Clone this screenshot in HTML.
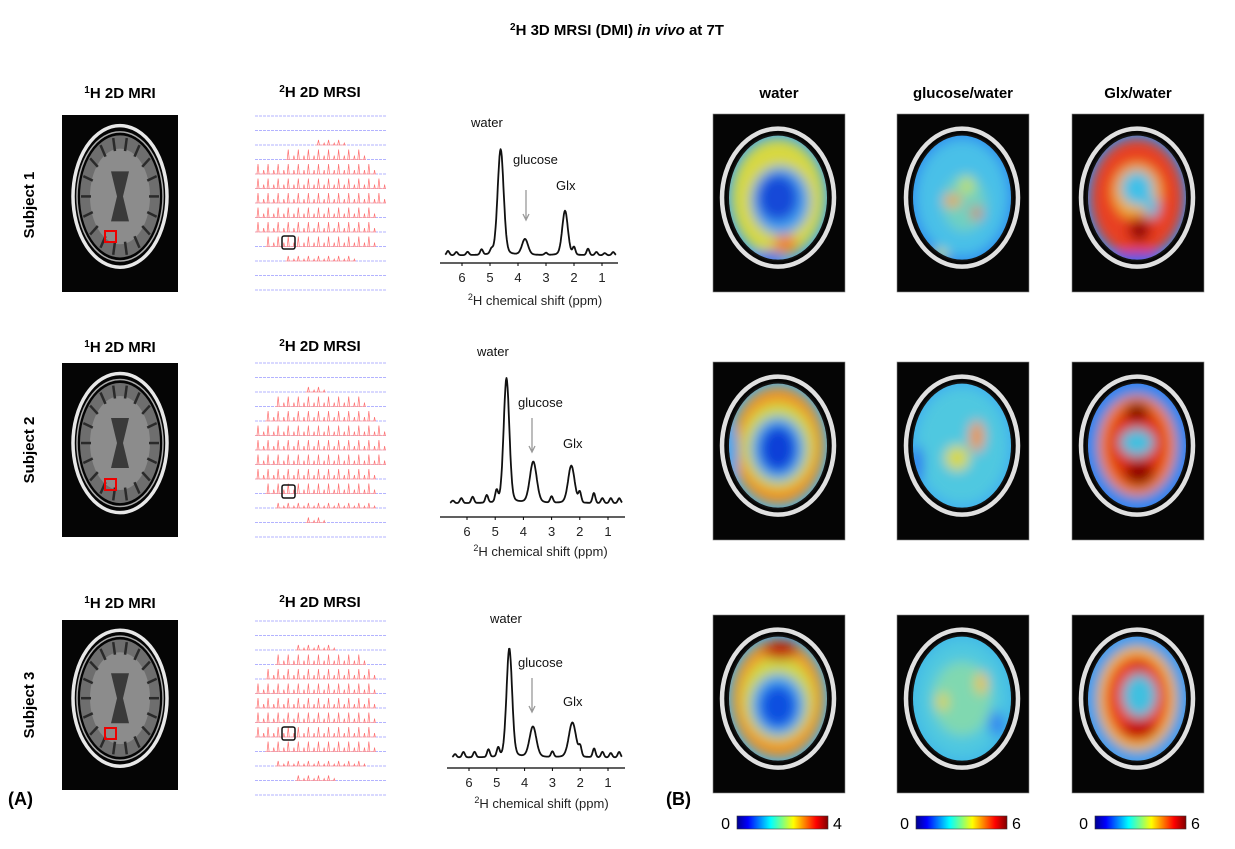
<!DOCTYPE html>
<html><head><meta charset="utf-8"><style>
body{margin:0;background:#fff;width:1235px;height:844px;overflow:hidden;font-family:"Liberation Sans",sans-serif}
svg text{font-family:"Liberation Sans",sans-serif}
</style></head><body>
<svg id="fig" width="1235" height="844" viewBox="0 0 1235 844" xmlns="http://www.w3.org/2000/svg">
<defs>
<linearGradient id="jet" x1="0" x2="1" y1="0" y2="0">
<stop offset="0" stop-color="#00008f"/><stop offset="0.12" stop-color="#0000ff"/><stop offset="0.37" stop-color="#00ffff"/><stop offset="0.5" stop-color="#80ff80"/><stop offset="0.62" stop-color="#ffff00"/><stop offset="0.87" stop-color="#ff0000"/><stop offset="1" stop-color="#800000"/>
</linearGradient>
<filter id="blur" x="-50%" y="-50%" width="200%" height="200%"><feGaussianBlur stdDeviation="6"/></filter>
</defs>
<text x="617" y="35" text-anchor="middle" font-size="15" font-weight="bold"><tspan font-size="10" dy="-5">2</tspan><tspan dy="5">H 3D MRSI (DMI) </tspan><tspan font-style="italic">in vivo</tspan> at 7T</text>
<text x="8" y="805" font-size="18" font-weight="bold">(A)</text>
<text x="666" y="805" font-size="18" font-weight="bold">(B)</text>
<g id="content"></g>
</svg>
<script>
// Spectrum data: peak positions (ppm), heights (relative to water=1), widths (ppm)
const peakNames = ["water","glucose","Glx"];
const peakPpm = [[4.62,3.75,2.32],[4.6,3.65,2.3],[4.55,3.7,2.28]];
const peakHeights = [[1.0,0.15,0.42],[1.0,0.33,0.30],[1.0,0.28,0.32]];
const peakWidths = [[0.15,0.15,0.14],[0.14,0.17,0.16],[0.14,0.17,0.18]];
const noisePpm = [6.5,6.2,5.8,5.3,4.95,3.0,2.0,1.5,1.2,0.9,0.6];
const noiseAmp = [[0.04,0.03,0.03,0.05,0.04,0.02,0.07,0.06,0.03,0.02,0.03],[0.02,0.04,0.05,0.06,0.09,0.05,0.08,0.08,0.04,0.04,0.04],[0.03,0.05,0.05,0.07,0.08,0.05,0.08,0.08,0.05,0.04,0.05]];
const tickLabels = [6,5,4,3,2,1];
// MRSI grid: first/last column with spectra per row (-1 = none)
const mrsiStart = [[-1,-1,6,3,0,0,0,0,0,1,3,-1,-1],[-1,-1,5,2,1,0,0,0,0,1,2,5,-1],[-1,-1,4,2,1,0,0,0,0,1,2,4,-1]];
const mrsiEnd = [[-1,-1,8,10,11,12,12,11,11,11,9,-1,-1],[-1,-1,6,10,11,12,12,12,11,11,11,6,-1],[-1,-1,7,10,11,11,11,11,11,11,10,7,-1]];

const NS="http://www.w3.org/2000/svg";
const root=document.getElementById('content');
function mk(tag,attrs,parent){const e=document.createElementNS(NS,tag);for(const k in attrs)e.setAttribute(k,attrs[k]);(parent||root).appendChild(e);return e;}

const rows=[
 {top:115,bot:292,lab:98, ax:{x0:440,x1:618,y:263,ppm6:462,ppm1:602,base:250,wtop:144}, wl:[471,127], gl:[513,164], ga:[526,190,220], xl:[556,190], xlabel:305, mrsi:[116,290], sq:[110,236], sq2:[289,243], subj:205},
 {top:363,bot:537,lab:352, ax:{x0:440,x1:625,y:517,ppm6:467,ppm1:608,base:497,wtop:372}, wl:[477,356], gl:[518,407], ga:[532,418,452], xl:[563,448], xlabel:556, mrsi:[363,537], sq:[110,484], sq2:[289,492], subj:450},
 {top:620,bot:790,lab:608, ax:{x0:447,x1:625,y:768,ppm6:469,ppm1:608,base:752,wtop:643}, wl:[490,623], gl:[518,667], ga:[532,678,712], xl:[563,706], xlabel:808, mrsi:[621,795], sq:[110,733], sq2:[289,734], subj:705}
];

rows.forEach((r,ri)=>{
 const g=mk('g',{});
 
 
 const st=mk('text',{x:0,y:0,transform:`translate(34,${r.subj}) rotate(-90)`,'text-anchor':'middle','font-size':15,'font-weight':'bold'},g);
 st.textContent='Subject '+(ri+1);
 
 
 const l1=mk('text',{x:120,y:r.lab,'text-anchor':'middle','font-size':15,'font-weight':'bold'},g);
 l1.innerHTML='<tspan font-size="10" dy="-5">1</tspan><tspan dy="5">H 2D MRI</tspan>';
 
 
 const l2=mk('text',{x:320,y:r.lab-1,'text-anchor':'middle','font-size':15,'font-weight':'bold'},g);
 l2.innerHTML='<tspan font-size="10" dy="-5">2</tspan><tspan dy="5">H 2D MRSI</tspan>';
 
 
 const mg=mk('g',{},g);
 
 
 const cx=120, h=r.bot-r.top, cy=r.top+h*0.46;
 mk('rect',{x:62,y:r.top,width:116,height:h,fill:'#050505'},mg);
 mk('ellipse',{cx,cy,rx:47,ry:h*0.4,fill:'none',stroke:'#e8e8e8','stroke-width':3.5},mg);
 mk('ellipse',{cx,cy,rx:43,ry:h*0.365,fill:'none',stroke:'#aaa','stroke-width':1.5},mg);
 mk('ellipse',{cx,cy,rx:40,ry:h*0.345,fill:'#6e6e6e'},mg);
 mk('ellipse',{cx,cy,rx:30,ry:h*0.27,fill:'#8c8c8c'},mg);
 mk('path',{d:`M${cx-9} ${cy-25} L${cx-3} ${cy} L${cx-9} ${cy+25} L${cx+9} ${cy+25} L${cx+3} ${cy} L${cx+9} ${cy-25} Z`,fill:'#3a3a3a'},mg);
 for(let k=0;k<18;k++){const a=k/18*Math.PI*2;mk('line',{x1:cx+Math.cos(a)*29,y1:cy+Math.sin(a)*h*0.26,x2:cx+Math.cos(a)*39,y2:cy+Math.sin(a)*h*0.335,stroke:'#2a2a2a','stroke-width':2.5},mg);}
 const rs=mk('rect',{x:r.sq[0]-5,y:r.sq[1]-5,width:11,height:11,fill:'none',stroke:'#e00','stroke-width':2},g);
 
 
 const gg=mk('g',{},g);
 
 
 const gx0=255,gx1=386,dy=(r.mrsi[1]-r.mrsi[0])/12,cw=(gx1-gx0)/13;
 for(let i=0;i<13;i++){
  const y=r.mrsi[0]+i*dy;
  mk('line',{x1:gx0,y1:y,x2:gx1,y2:y,stroke:'#9a9aff','stroke-width':0.8,'stroke-dasharray':'3,1'},gg);
  const s=mrsiStart[ri][i],e=mrsiEnd[ri][i];
  if(s<0)continue;
  const x0=gx0+s*cw,x1=gx0+(e+1)*cw;
  mk('line',{x1:x0,y1:y,x2:x1,y2:y,stroke:'#ffa0a0','stroke-width':0.8},gg);
  for(let c=s;c<=e;c++){const px=gx0+c*cw+3;const hh=(i>=3&&i<=9)?10:5;
   mk('path',{d:`M${px-1} ${y} L${px} ${y-hh} L${px+1} ${y} M${px+5} ${y} L${px+5.7} ${y-hh*0.4} L${px+6.4} ${y}`,stroke:'#ff7070','stroke-width':0.7,fill:'none'},gg);}
 }
 const bs=mk('rect',{x:r.sq2[0]-7,y:r.sq2[1]-7,width:13,height:13,rx:2,fill:'none',stroke:'#111','stroke-width':1.5},g);
 
 
 const A=r.ax, sx=p=>A.ppm6+(6-p)*(A.ppm1-A.ppm6)/5, amp=A.base-A.wtop;
 const sy=v=>A.base-v*amp;
 const sp=mk('g',{},g);
 
 
 const ax=mk('line',{x1:A.x0,y1:A.y,x2:A.x1,y2:A.y,stroke:'#000','stroke-width':1.2},sp);
 
 
 tickLabels.forEach(t=>{
  mk('line',{x1:sx(t),y1:A.y,x2:sx(t),y2:A.y+3,stroke:'#000'},sp);
  const tt=mk('text',{x:sx(t),y:A.y+19,'text-anchor':'middle','font-size':13,fill:'#222'},sp);
  tt.textContent=t;
  
  
 });
 const xt=mk('text',{x:(A.ppm6+A.ppm1)/2+3,y:r.xlabel,'text-anchor':'middle','font-size':13,fill:'#222'},sp);
 xt.innerHTML='<tspan font-size="9" dy="-5">2</tspan><tspan dy="5">H chemical shift (ppm)</tspan>';
 
 
 let d='';
 const shape=(p,c,w)=>{const z=(p-c)/w;return 0.85*Math.exp(-z*z)+0.15/(1+z*z);};
 for(let p=6.6;p>=0.5;p-=0.02){
  let v=0;
  for(let k=0;k<3;k++)v+=peakHeights[ri][k]*shape(p,peakPpm[ri][k],peakWidths[ri][k]);
  for(let k=0;k<noisePpm.length;k++)v+=noiseAmp[ri][k]*Math.exp(-Math.pow((p-noisePpm[k])/0.07,2));
  v-=0.05;
  d+=(d?'L':'M')+sx(p).toFixed(1)+' '+sy(v).toFixed(1);
 }
 const ln=mk('path',{d,fill:'none',stroke:'#111','stroke-width':1.8,'stroke-linejoin':'round'},sp);
 
 
 const labs=[[r.wl,'water'],[r.gl,'glucose'],[r.xl,'Glx']];
 labs.forEach(([p,t])=>{const e=mk('text',{x:p[0],y:p[1],'font-size':13,fill:'#111'},sp);e.textContent=t;
  
  });
 const ar=mk('path',{d:`M${r.ga[0]} ${r.ga[1]} L${r.ga[0]} ${r.ga[2]} M${r.ga[0]-3} ${r.ga[2]-6} L${r.ga[0]} ${r.ga[2]} L${r.ga[0]+3} ${r.ga[2]-6}`,stroke:'#999','stroke-width':1.3,fill:'none'},sp);
 
 
});

const hmX=[713,897,1072], hmTop=[114,362,615], hmH=178, hmW=132;
const hmNames=['water','glucose-water','glx-water'];
const hmTitles=['water','glucose/water','Glx/water'];
const hmBase=[['#40a8f0','#3090f0','#3090f0'],['#40b0f0','#40b0f0','#3080f0'],['#40b0f0','#40b8e8','#40a0f0']];
const hmBlobs=[
 [[[0,0,0.95,0.95,'#d8d840'],[0.05,0.05,0.6,0.55,'#40a0f0'],[0,0,0.42,0.38,'#1848d8'],[0.15,0.75,0.25,0.15,'#f08020'],[-0.2,0.95,0.3,0.08,'#2040f0']],
  [[0,0,0.95,0.95,'#48c0e8'],[0.05,0.1,0.45,0.45,'#70d0c0'],[-0.2,0.05,0.18,0.1,'#f0a020'],[0.3,0.25,0.1,0.1,'#e85020'],[0.1,-0.2,0.15,0.15,'#c0e060'],[-0.45,0.92,0.15,0.08,'#e0e040']],
  [[0,0,0.95,0.95,'#e84020'],[0,-0.1,0.5,0.45,'#f0b030'],[0,-0.15,0.33,0.28,'#40c0e8'],[0.3,0.15,0.14,0.17,'#40c0e8'],[0.05,0.5,0.25,0.22,'#c01010'],[0.05,0.55,0.12,0.12,'#600000'],[0,0.97,0.5,0.08,'#3050f0']]],
 [[[0,0,0.95,0.95,'#f09020'],[0,0,0.75,0.7,'#d0d840'],[0,0.05,0.55,0.52,'#40a8f0'],[0,0.05,0.38,0.38,'#1040d8'],[-0.92,0.1,0.1,0.4,'#30a0f0']],
  [[0,0,0.95,0.95,'#50c8e0'],[0.3,-0.15,0.15,0.25,'#f09020'],[-0.1,0.2,0.25,0.2,'#d8d840'],[-0.9,0.3,0.1,0.3,'#2060f0']],
  [[0,0,0.95,0.95,'#3090f0'],[0,0,0.8,0.82,'#f08020'],[0,0,0.6,0.65,'#e03010'],[0,-0.55,0.25,0.15,'#800000'],[0.05,0.45,0.3,0.2,'#900000'],[0,-0.05,0.35,0.22,'#40c0e0']]],
 [[[0,0,0.95,0.95,'#f09020'],[0,0,0.75,0.7,'#d0d840'],[0,0.1,0.55,0.5,'#40a8f0'],[0,0.12,0.38,0.35,'#1050e0'],[0.05,-0.78,0.35,0.15,'#c00000']],
  [[0,0,0.95,0.95,'#50c8e0'],[0,0,0.6,0.6,'#80d8b0'],[0.4,-0.25,0.12,0.18,'#f0c020'],[-0.4,0.05,0.12,0.15,'#e0d040'],[0.7,0.4,0.15,0.2,'#3080f0']],
  [[0,0,0.95,0.95,'#3090f0'],[0,0,0.82,0.85,'#f0c030'],[0,0,0.65,0.7,'#e84020'],[0.05,-0.05,0.35,0.35,'#40c0e0'],[0.05,0.5,0.35,0.15,'#c00000'],[0.05,-0.5,0.08,0.1,'#c03010']]]
];
for(let r=0;r<3;r++)for(let c=0;c<3;c++){
 const x=hmX[c],y=hmTop[r];
 const g=mk('g',{});
 
 
 mk('rect',{x,y,width:hmW,height:hmH,fill:'#050505',stroke:'#888','stroke-width':0.6},g);
 const cx=x+hmW/2-1,cy=y+hmH*0.47,rx=49,ry=62;
 mk('ellipse',{cx,cy,rx:rx+7,ry:ry+7,fill:'none',stroke:'#e0e0e0','stroke-width':4.5},g);
 mk('ellipse',{cx,cy,rx:rx+2,ry:ry+2,fill:'#111'},g);
 const cid='clip'+r+c;
 const cp=mk('clipPath',{id:cid},g);mk('ellipse',{cx,cy,rx,ry},cp);
 const inner=mk('g',{'clip-path':`url(#${cid})`},g);
 mk('rect',{x,y,width:hmW,height:hmH,fill:hmBase[r][c]},inner);
 const bg=mk('g',{filter:'url(#blur)'},inner);
 hmBlobs[r][c].forEach(b=>mk('ellipse',{cx:cx+b[0]*rx,cy:cy+b[1]*ry,rx:b[2]*rx,ry:b[3]*ry,fill:b[4]},bg));
 if(r===0){const t=mk('text',{x:x+hmW/2,y:98,'text-anchor':'middle','font-size':15,'font-weight':'bold'});t.textContent=hmTitles[c];
  
  }
}
const cbX=[737,916,1095], cbMax=['4','6','6'];
for(let c=0;c<3;c++){
 const g=mk('g',{});
 
 
 mk('rect',{x:cbX[c],y:816,width:91,height:13,fill:'url(#jet)',stroke:'#333','stroke-width':0.6},g);
 const a=mk('text',{x:cbX[c]-7,y:829,'text-anchor':'end','font-size':16},g);a.textContent='0';
 const b=mk('text',{x:cbX[c]+96,y:829,'font-size':16},g);b.textContent=cbMax[c];
}
</script>
</body></html>
